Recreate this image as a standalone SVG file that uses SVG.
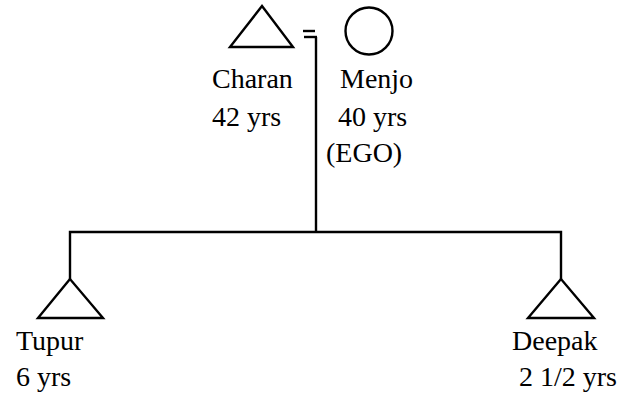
<svg xmlns="http://www.w3.org/2000/svg" width="637" height="412" viewBox="0 0 637 412">
  <style>
    .sym { fill: none; stroke: #000; stroke-width: 2.4; stroke-linejoin: miter; }
    .line { fill: none; stroke: #000; stroke-width: 2.4; }
  </style>
  <rect width="637" height="412" fill="#fff"/>

  <g id="connectors">
    <!-- marriage sign -->
    <line class="line" x1="303" y1="31" x2="315" y2="31"/>
    <line class="line" x1="304" y1="37" x2="317" y2="37"/>
    <!-- descent line -->
    <line class="line" x1="316" y1="37" x2="316" y2="232"/>
    <!-- sibling bar and drops -->
    <polyline class="line" points="70,279 70,232 561,232 561,279"/>
  </g>

  <g font-family="Liberation Serif, Times New Roman, Times, DejaVu Serif, serif" font-size="28" fill="#000">
    <g id="charan">
      <polygon class="sym" points="262,6 230,47 293,47"/>
      <text x="212" y="88">Charan</text>
      <text x="212" y="126">42 yrs</text>
    </g>

    <g id="menjo">
      <circle class="sym" cx="369" cy="31" r="23.5"/>
      <text x="340" y="88">Menjo</text>
      <text x="338" y="126">40 yrs</text>
      <text x="326" y="162">(EGO)</text>
    </g>

    <g id="tupur">
      <polygon class="sym" points="70,279 38,318 103,318"/>
      <text x="16" y="350">Tupur</text>
      <text x="16" y="386">6 yrs</text>
    </g>

    <g id="deepak">
      <polygon class="sym" points="561,279 528,318 594,318"/>
      <text x="512" y="350">Deepak</text>
      <text x="519" y="386">2 1/2 yrs</text>
    </g>
  </g>
</svg>
